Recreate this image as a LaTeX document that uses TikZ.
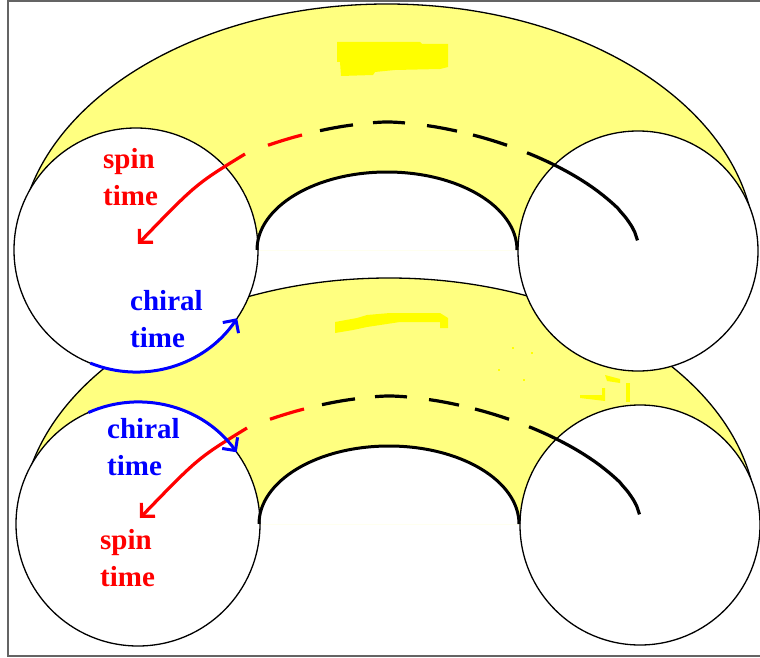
\documentclass[tikz,border=0pt]{standalone}
\usepackage{fontspec}
\setmainfont{Liberation Serif}
\usetikzlibrary{arrows.meta}

\definecolor{torusyellow}{RGB}{255,255,128}
\definecolor{patchyellow}{RGB}{255,255,0}
\definecolor{framegray}{RGB}{100,100,100}

\tikzset{
  body/.style={fill=torusyellow},
  rim/.style={draw=black, line width=1.3pt},
  tube/.style={rim, fill=white},
  hole/.style={draw=black, line width=3pt},
  core/.style={line width=3.2pt},
  barb/.style={-{Straight Barb[length=9.5pt,width=19pt]}},
  lbl/.style={font=\fontsize{29}{37}\selectfont\bfseries, inner sep=0pt, align=left, anchor=base west},
}

\begin{document}
\begin{tikzpicture}[x=1pt, y=-1pt,
  declare function={corey(\u)=244-122*pow(1-pow(abs(\u-387.5)/250.5+0.0001,1.65),0.606);}]
\useasboundingbox (0,0) rectangle (760,658);
\fill[white] (0,0) rectangle (760,658);

% frame
\draw[framegray, line width=2pt] (770,1) -- (8,1) -- (8,656) -- (770,656);

% the two tori, the lower one first
\foreach \tor/\sx/\sy in {low/2/274, up/0/0} {
\begin{scope}[shift={(\sx,\sy)}]
  \coordinate (\tor-left) at (136,250);
  \coordinate (\tor-right) at (638,251);
  \coordinate (\tor-tip) at (138,244);
  \coordinate (\tor-start) at (245,154);
  % body
  \fill[body, even odd rule] (19,250) arc[start angle=180, end angle=360, x radius=368, y radius=246] -- cycle
    (257,250) arc[start angle=180, end angle=360, x radius=130, y radius=78] -- cycle;
  \draw[rim] (19,250) arc[start angle=180, end angle=360, x radius=368, y radius=246];
  % tubes
  \draw[tube] (\tor-left) circle[radius=122];
  \draw[tube] (\tor-right) circle[radius=120];
  % hole
  \draw[hole] (257,250) arc[start angle=180, end angle=360, x radius=130, y radius=78];
  % core circle
  \draw[core, red, barb] (\tor-start) .. controls (196,184) .. (\tor-tip);
  \draw[core, red, domain=268:302, samples=8] plot (\x, {corey(\x)});
  \foreach \a/\b in {320/353, 373/405, 427/457, 473/507}
    \draw[core, domain=\a:\b, samples=8] plot (\x, {corey(\x)});
  \draw[core, domain=527:637.5, samples=40] plot (\x, {corey(\x)});
\end{scope}
}

% bright patches
\fill[patchyellow] (337,42) -- (420,42) -- (422,44) -- (448,44) -- (448,67) -- (440,69) -- (395,70)
  -- (375,72) -- (373,75) -- (341,76) -- (340,62) -- (337,62) -- cycle;
\fill[patchyellow] (335,322) -- (357,318) -- (367,315) -- (390,313) -- (440,313) -- (448,318) -- (448,328)
  -- (440,328) -- (440,322) -- (400,322) -- (367,327) -- (353,330) -- (335,333) -- cycle;
\fill[patchyellow] (605,375) -- (620,379) -- (620,383) -- (607,381) -- cycle;
\fill[patchyellow] (580,395) -- (602,395) -- (602,388) -- (605,388) -- (605,401) -- (580,398) -- cycle;
\fill[patchyellow] (626,383) rectangle (630,402);
\foreach \px/\py in {512/347, 531/352, 498/369, 523/379}
  \fill[patchyellow] (\px,\py) rectangle +(2,2);

% chiral time arcs
\draw[blue, line width=3pt, barb] (up-left) ++(-248:122) arc[start angle=-248, end angle=-326, radius=122];
\draw[blue, line width=3pt, barb] (low-left) ++(-114:122) arc[start angle=-114, end angle=-36, radius=122];

% labels
\node[lbl, red] (spin-up) at (103,205) {spin\\time};
\node[lbl, blue] (chiral-up) at (130,347) {chiral\\time};
\node[lbl, blue] (chiral-low) at (107,475) {chiral\\time};
\node[lbl, red] (spin-low) at (100,586) {spin\\time};
\end{tikzpicture}
\end{document}
